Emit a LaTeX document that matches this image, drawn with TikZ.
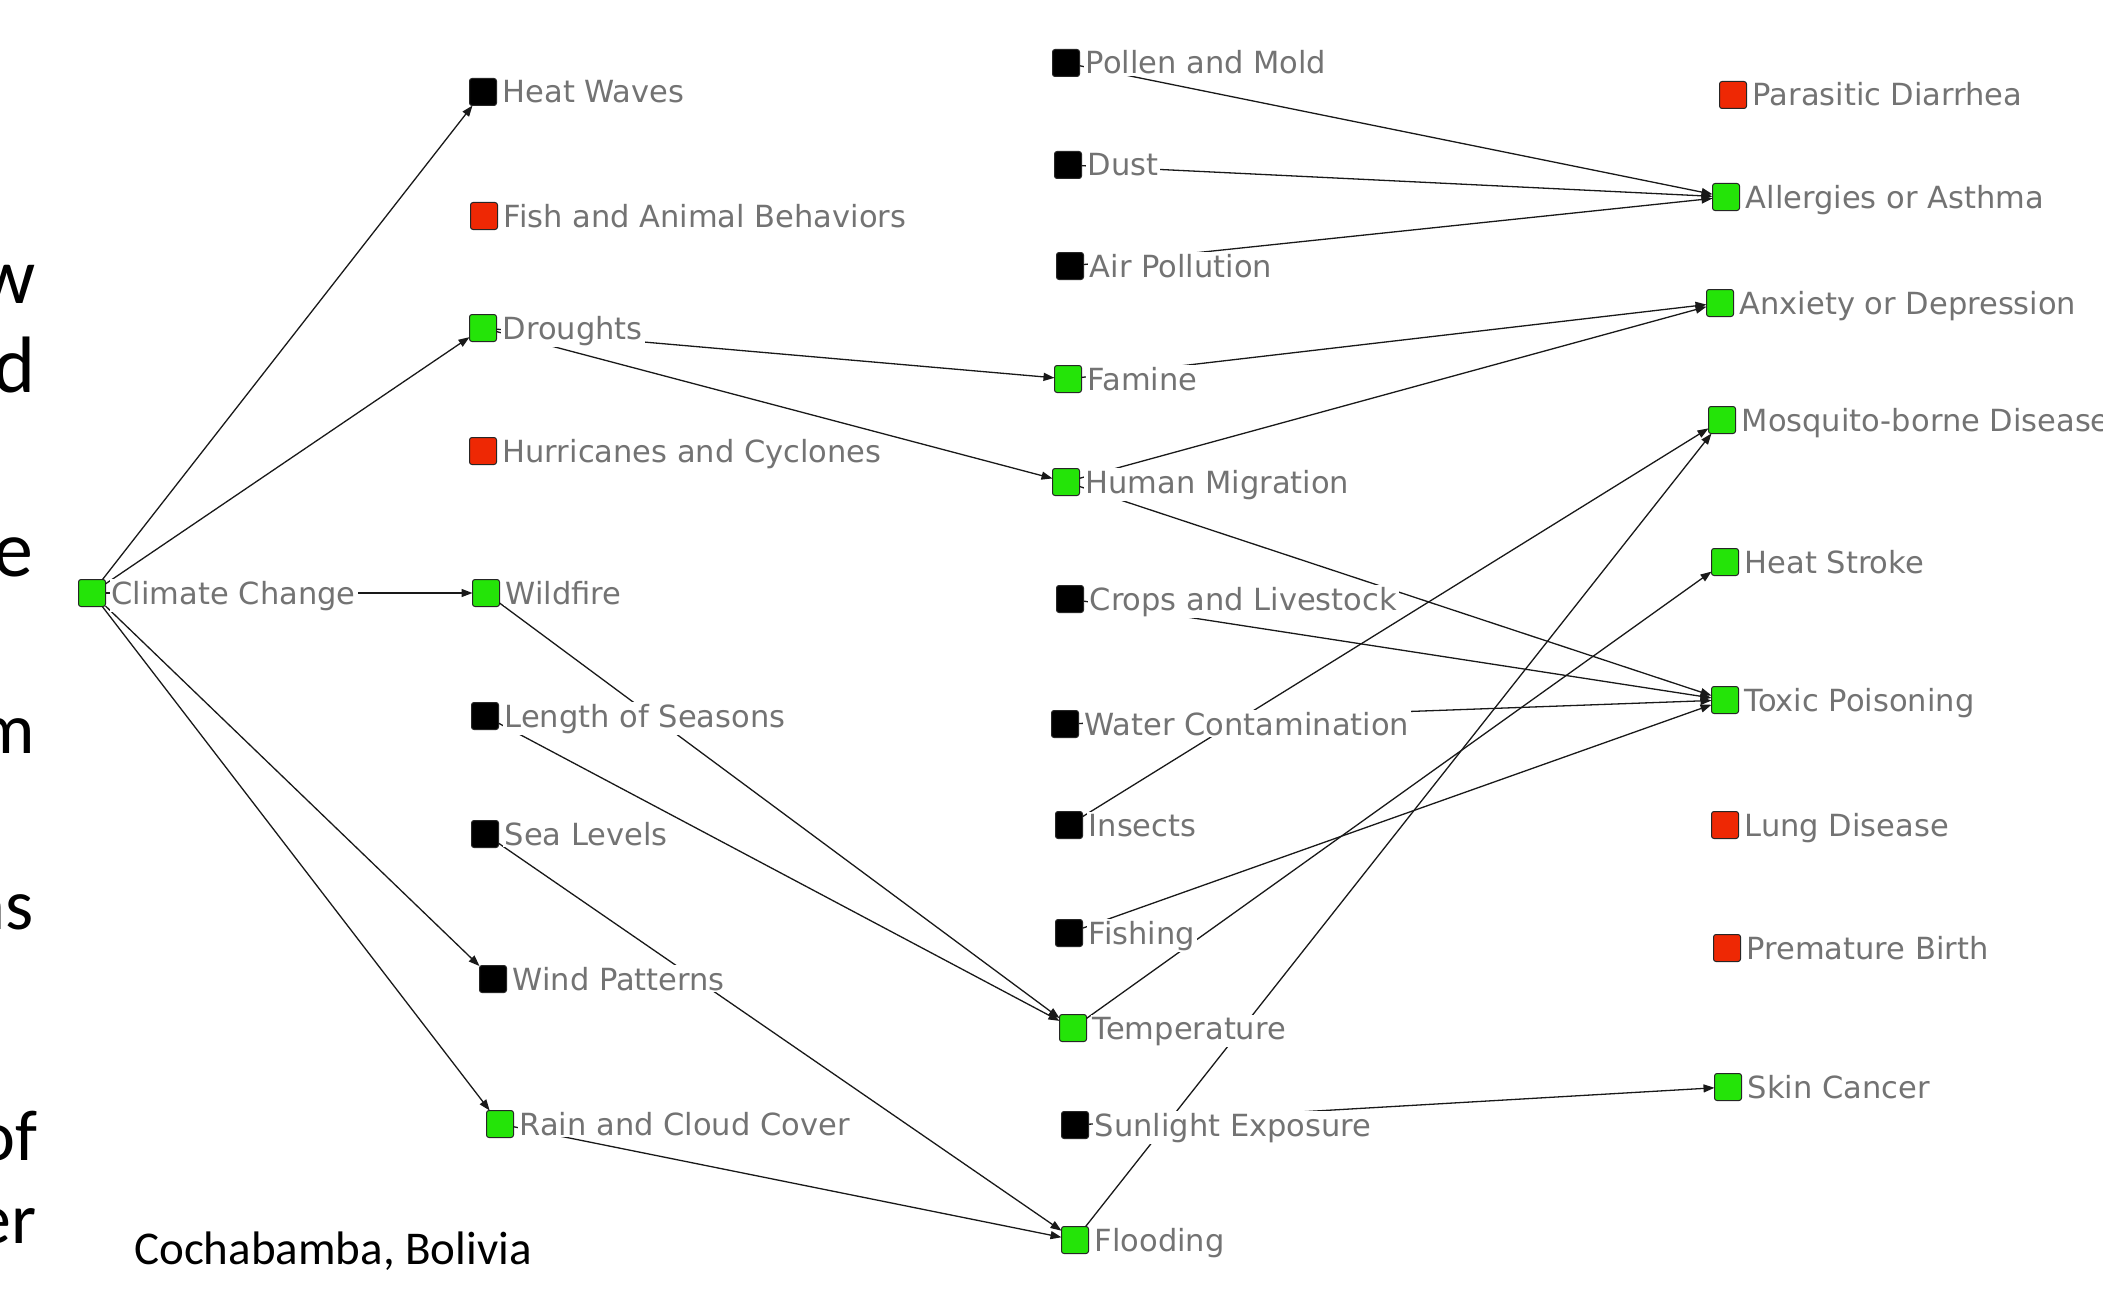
\documentclass[tikz,border=0pt]{standalone}
\usepackage{fontspec}
\setmainfont{DejaVu Sans}
\newfontfamily\calfont{Carlito}
\usetikzlibrary{arrows.meta}
\definecolor{ngreen}{RGB}{36,228,8}
\definecolor{nred}{RGB}{238,40,4}
\definecolor{nblack}{RGB}{0,0,0}
\definecolor{lblgray}{RGB}{115,115,115}
\tikzset{
  sq/.style={draw=black!85, line width=1pt, rounded corners=2.5pt, minimum size=27pt, inner sep=0pt, outer sep=0pt},
  lbl/.style={anchor=base west, fill=white, inner sep=2pt, text=lblgray, font=\fontsize{30.5}{36}\selectfont},
  arr/.style={-{Triangle[length=11pt,width=8pt]}, line width=1.3pt, draw=black!90},
  side/.style={anchor=base east, inner sep=0pt, font=\calfont\fontsize{80}{90}\selectfont},
  sidesm/.style={side, font=\calfont\fontsize{72}{82}\selectfont},
  place/.style={anchor=base west, inner sep=0pt, font=\calfont\fontsize{47}{56}\selectfont}
}
\begin{document}
\begin{tikzpicture}[x=1pt,y=-1pt]
\useasboundingbox (0,0) rectangle (2103,1292);
\begin{scope}
\clip (0,0) rectangle (2103,1292);
\node[side] (s1) at (36,303) {w};
\node[side] (s2) at (36,392) {d};
\node[side] (s3) at (34,576) {e};
\node[sidesm] (s4) at (35,753) {m};
\node[sidesm] (s5) at (34,929) {ns};
\node[sidesm] (s6) at (38,1160) {of};
\node[sidesm] (s7) at (37,1243) {er};
\end{scope}
\node[place] (city) at (134,1264) {Cochabamba, Bolivia};
% squares
\foreach \n/\x/\y/\c in {
  cc/92/593/ngreen, hw/483/92/nblack, fab/484/216/nred, dr/483/328/ngreen,
  hc/483/451/nred, wf/486/593/ngreen, ls/485/716/nblack, sl/485/834/nblack,
  wp/493/979/nblack, rc/500/1124/ngreen,
  pm/1066/63/nblack, du/1068/165/nblack, ap/1070/266/nblack, fa/1068/379/ngreen,
  hm/1066/482/ngreen, cl/1070/599/nblack, wc/1065/724/nblack, ins/1069/825/nblack,
  fi/1069/933/nblack, te/1073/1028/ngreen, se/1075/1125/nblack, fl/1075/1240/ngreen,
  pd/1733/95/nred, aa/1726/197/ngreen, ad/1720/303/ngreen, mb/1722/420/ngreen,
  hs/1725/562/ngreen, tp/1725/700/ngreen, ld/1725/825/nred, pb/1727/948/nred,
  sc/1728/1087/ngreen}
  \node[sq, fill=\c] (\n) at (\x,\y) {};
% connectors
\foreach \a/\b in {cc/hw, cc/dr, cc/wf, cc/wp, cc/rc, dr/fa, dr/hm, wf/te, ls/te,
  sl/fl, rc/fl, pm/aa, du/aa, ap/aa, fa/ad, hm/ad, hm/tp, cl/tp, wc/tp, ins/mb,
  fi/tp, te/hs, fl/mb, se/sc}
  \draw[arr] (\a) -- (\b);
% labels
\foreach \n/\t in {
  cc/Climate Change, hw/Heat Waves, fab/Fish and Animal Behaviors, dr/Droughts,
  hc/Hurricanes and Cyclones, wf/Wildfire, ls/Length of Seasons, sl/Sea Levels,
  wp/Wind Patterns, rc/Rain and Cloud Cover,
  pm/Pollen and Mold, du/Dust, ap/Air Pollution, fa/Famine, hm/Human Migration,
  cl/Crops and Livestock, wc/Water Contamination, ins/Insects, fi/Fishing,
  te/Temperature, se/Sunlight Exposure, fl/Flooding,
  pd/Parasitic Diarrhea, aa/Allergies or Asthma, ad/Anxiety or Depression,
  mb/Mosquito-borne Disease, hs/Heat Stroke, tp/Toxic Poisoning, ld/Lung Disease,
  pb/Premature Birth, sc/Skin Cancer}
  \node[lbl] (\n-l) at ([xshift=4pt,yshift=-11pt]\n.east) {\t};
\end{tikzpicture}
\end{document}
